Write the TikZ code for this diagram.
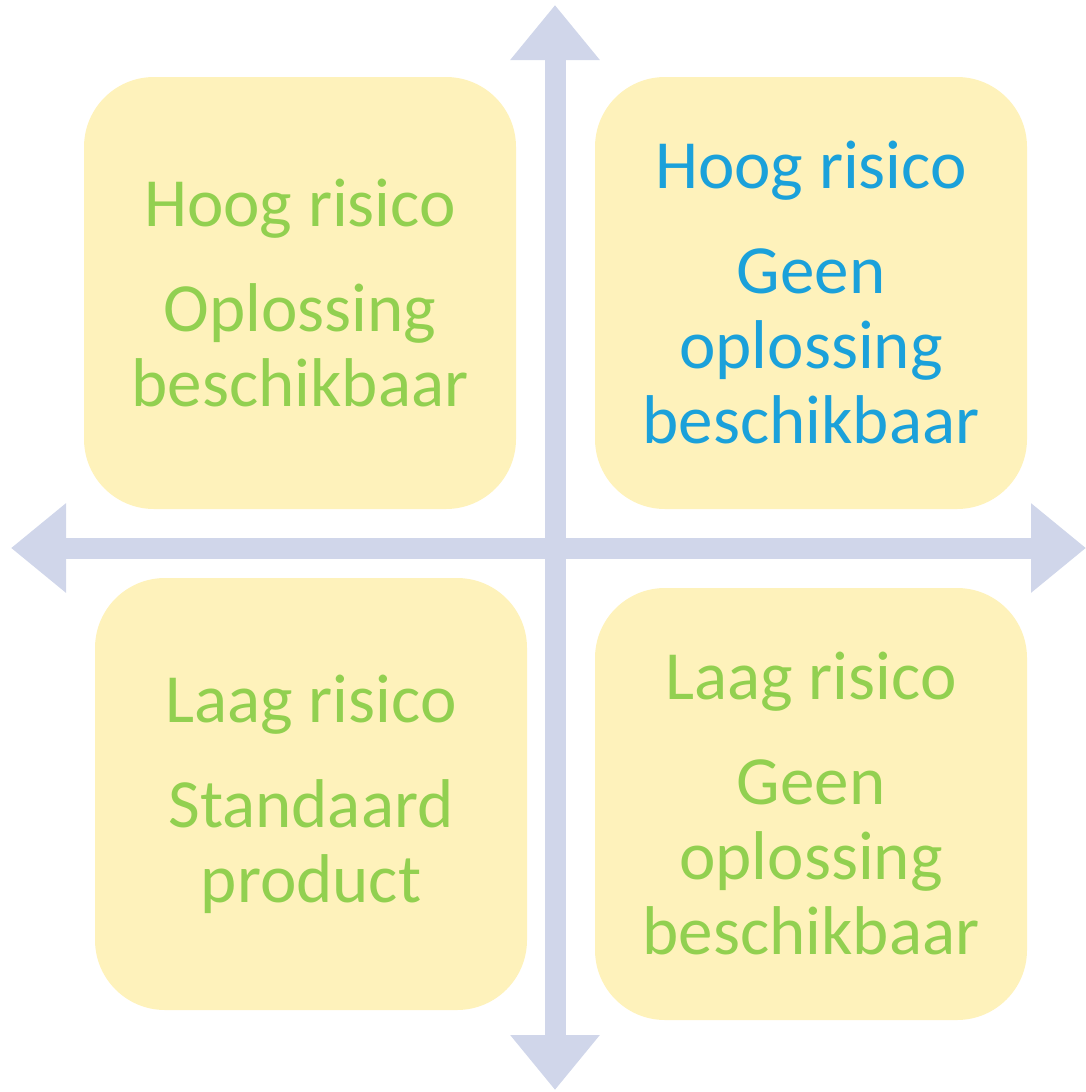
\documentclass[tikz,border=0pt]{standalone}
\usepackage{fontspec}
\setmainfont{Carlito}
\usetikzlibrary{arrows.meta}
\definecolor{axiscol}{HTML}{D0D6EA}
\definecolor{boxfill}{HTML}{FEF2BB}
\definecolor{greentxt}{HTML}{92D050}
\definecolor{bluetxt}{HTML}{1BA1DA}
\tikzset{
  quad/.style={fill=boxfill, draw=none, rounded corners=70pt, minimum width=432pt, minimum height=432pt,
    inner sep=0pt, align=center, font=\fontsize{69}{75}\selectfont},
  axisline/.style={draw=axiscol, line width=21pt, line cap=butt,
    {Triangle[length=55pt,width=86pt]}-{Triangle[length=55pt,width=86pt]}},
}
\begin{document}
\begin{tikzpicture}[x=1pt,y=-1pt]
\useasboundingbox (0,0) rectangle (1086,1092);
% quadrant boxes
\node[quad, text=greentxt] (tl) at (300,293) {Hoog risico\\[30pt]Oplossing\\beschikbaar};
\node[quad, text=bluetxt] (tr) at (811,293) {Hoog risico\\[30pt]Geen\\oplossing\\beschikbaar};
\node[quad, text=greentxt] (bl) at (311,794) {Laag risico\\[30pt]Standaard\\product};
\node[quad, text=greentxt] (br) at (811,804) {Laag risico\\[30pt]Geen\\oplossing\\beschikbaar};
% axes
\coordinate (top) at (555,5);
\coordinate (bottom) at (555,1090);
\coordinate (left) at (11,548);
\coordinate (right) at (1086,548);
\draw[axisline] (bottom) -- (top);
\draw[axisline] (left) -- (right);
\end{tikzpicture}
\end{document}
